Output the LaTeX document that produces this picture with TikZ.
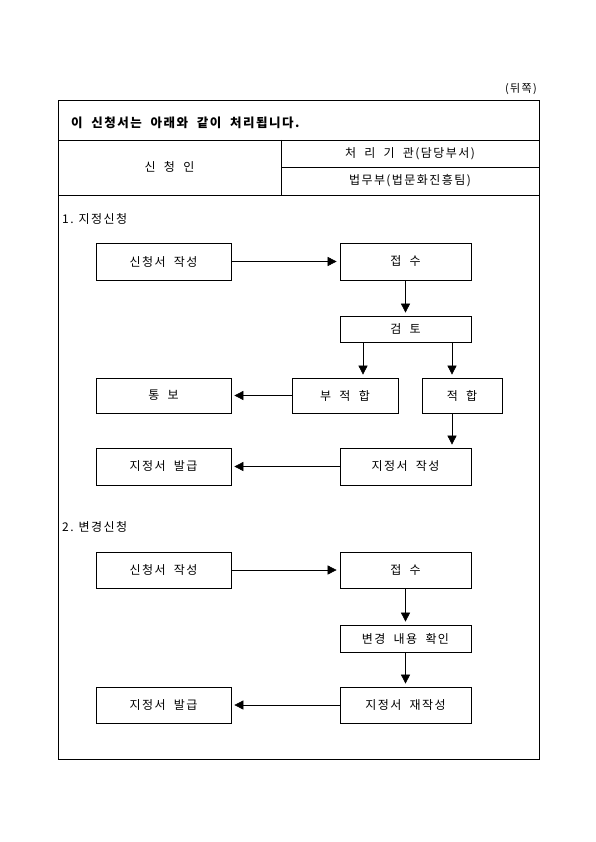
\documentclass[tikz,border=0pt]{standalone}
\usepackage{fontspec}
\setmainfont{Noto Sans CJK KR}[LetterSpace=12, WordSpace=2]
\usetikzlibrary{arrows.meta}
\tikzset{
  box/.style={draw, line width=0.7pt, rectangle, inner sep=0pt, font=\fontsize{12}{14}\selectfont},
  arr/.style={line width=0.6pt, -{Triangle[length=9pt,width=9pt]}, shorten >=3pt},
  txt/.style={inner sep=0pt, font=\fontsize{12}{14}\selectfont},
  rule/.style={line width=0.8pt}
}
\begin{document}
\begin{tikzpicture}[x=1pt,y=-1pt]
\useasboundingbox (0,0) rectangle (595,842);
% frame and header table
\coordinate (tl) at (58,100);
\coordinate (br) at (539,759);
\draw[rule] (tl) rectangle (br);
\draw[rule] (58,140) -- (539,140);
\draw[rule] (58,195) -- (539,195);
\draw[rule] (281,140) -- (281,195);
\draw[rule] (281,167) -- (539,167);
\node[txt, anchor=east, font=\fontsize{11}{13}\selectfont] (back) at (537,89) {(뒤쪽)};
\node[txt, anchor=west, font=\fontsize{12.5}{14}\bfseries] (title) at (71,123) {이 신청서는 아래와 같이 처리됩니다.};
\node[txt] (appl) at (169.5,167) {신 청 인};
\node[txt] (org) at (410,153.5) {처 리 기 관(담당부서)};
\node[txt] (dept) at (410,181) {법무부(법문화진흥팀)};
% section 1
\node[txt, anchor=west] (sec1) at (62,219) {1.\hspace{5pt}지정신청};
\node[box, minimum width=135, minimum height=37] (a1) at (163.5,261.5) {신청서 작성};
\node[box, minimum width=131, minimum height=37] (b1) at (405.5,261.5) {접 수};
\node[box, minimum width=131, minimum height=26] (c1) at (405.5,329) {검 토};
\node[box, minimum width=135, minimum height=35] (d1) at (163.5,395.5) {통 보};
\node[box, minimum width=106, minimum height=35] (e1) at (345,395.5) {부 적 합};
\node[box, minimum width=80, minimum height=35] (f1) at (462,395.5) {적 합};
\node[box, minimum width=135, minimum height=37] (g1) at (163.5,466.5) {지정서 발급};
\node[box, minimum width=131, minimum height=37] (h1) at (405.5,466.5) {지정서 작성};
\draw[arr] (a1) -- (b1);
\draw[arr] (b1) -- (c1);
\draw[arr] (c1.south -| 363,0) -- (e1.north -| 363,0);
\draw[arr] (c1.south -| 452,0) -- (f1.north -| 452,0);
\draw[arr] (e1) -- (d1);
\draw[arr] (f1.south -| 452,0) -- (h1.north -| 452,0);
\draw[arr] (h1) -- (g1);
% section 2
\node[txt, anchor=west] (sec2) at (62,527) {2.\hspace{5pt}변경신청};
\node[box, minimum width=135, minimum height=36] (a2) at (163.5,570) {신청서 작성};
\node[box, minimum width=131, minimum height=36] (b2) at (405.5,570) {접 수};
\node[box, minimum width=131, minimum height=27] (c2) at (405.5,638.5) {변경 내용 확인};
\node[box, minimum width=135, minimum height=36] (d2) at (163.5,705) {지정서 발급};
\node[box, minimum width=131, minimum height=36] (e2) at (405.5,705) {지정서 재작성};
\draw[arr] (a2) -- (b2);
\draw[arr] (b2) -- (c2);
\draw[arr] (c2) -- (e2);
\draw[arr] (e2) -- (d2);
\end{tikzpicture}
\end{document}
